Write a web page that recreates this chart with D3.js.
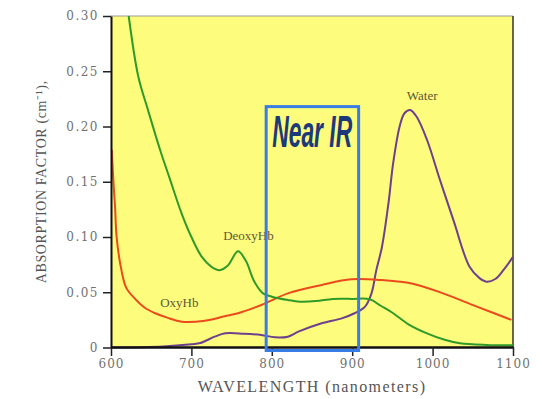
<!DOCTYPE html>
<html>
<head>
<meta charset="utf-8">
<script src="https://cdn.jsdelivr.net/npm/d3@7"></script>
<style>
  body { margin: 0; background: #fff; }
  .tick text { font-family: "DejaVu Serif", serif; fill: #707070; }
</style>
</head>
<body>
<div id="chart"></div>
<script>
// svg size
var svgWidth = 542;
var svgHeight = 399;
var margins = { top: 16, right: 29, bottom: 52, left: 111 };
var chartWidth = svgWidth - margins.left - margins.right;
var chartHeight = svgHeight - margins.top - margins.bottom;

// data (wavelength in nm, absorption in cm-1)
var deoxyWave = [622, 634, 646, 661, 673, 688, 700, 713, 725, 735, 745, 758, 768, 778, 789, 800, 820, 835, 855, 876, 900, 922, 935, 951, 970, 993, 1015, 1034, 1067, 1100];
var deoxyVal  = [0.30, 0.245, 0.215, 0.179, 0.153, 0.121, 0.100, 0.082, 0.073, 0.070, 0.074, 0.087, 0.078, 0.060, 0.049, 0.046, 0.043, 0.0415, 0.042, 0.044, 0.044, 0.0436, 0.038, 0.031, 0.021, 0.0128, 0.007, 0.0038, 0.0023, 0.002];

var oxyWave = [601, 603, 605, 607, 613, 619, 630, 642, 655, 670, 688, 717, 740, 758, 787, 820, 862, 899, 937, 974, 1013, 1055, 1098];
var oxyVal  = [0.179, 0.150, 0.128, 0.100, 0.070, 0.054, 0.044, 0.036, 0.031, 0.027, 0.0234, 0.0243, 0.028, 0.031, 0.0385, 0.049, 0.0566, 0.0617, 0.061, 0.058, 0.049, 0.037, 0.025];

var waterWave = [600, 665, 700, 711, 729, 742, 765, 787, 804, 820, 833, 862, 887, 903, 916, 924, 930, 937, 945, 951, 959, 965, 972, 980, 993, 1009, 1026, 1046, 1058, 1067, 1078, 1088, 1100];
var waterVal  = [0.0, 0.001, 0.003, 0.004, 0.0098, 0.0128, 0.0125, 0.0113, 0.0092, 0.0098, 0.0143, 0.0219, 0.0264, 0.031, 0.037, 0.049, 0.070, 0.091, 0.130, 0.167, 0.200, 0.212, 0.215, 0.209, 0.188, 0.152, 0.115, 0.073, 0.063, 0.0596, 0.062, 0.070, 0.082];

var xTicks = [600, 700, 800, 900, 1000, 1100];
var yTicks = [0, 0.05, 0.10, 0.15, 0.20, 0.25, 0.30];

// near infrared window and label positions
var nearIR = { from: 793, to: 908, top: 0.218 };
var labels = [
  { text: "Water", x: 987, y: 0.228 },
  { text: "DeoxyHb", x: 771, y: 0.101 },
  { text: "OxyHb", x: 685, y: 0.041 }
];

var svg = d3.select("#chart").append("svg")
    .attr("width", svgWidth)
    .attr("height", svgHeight);

var chartGroup = svg.append("g")
    .attr("transform", `translate(${margins.left}, ${margins.top})`);

var xscale = d3.scaleLinear().domain([600, 1100]).range([0, chartWidth]);
var yscale = d3.scaleLinear().domain([0, 0.30]).range([chartHeight + 0.5, 0]);

// yellow plot background
chartGroup.append("rect")
    .attr("width", chartWidth)
    .attr("height", chartHeight)
    .attr("fill", "#fdfc7c");

// frame top + right
chartGroup.append("line")
    .attr("x1", 0).attr("x2", chartWidth).attr("y1", 0).attr("y2", 0)
    .attr("stroke", "#9a9a9a").attr("stroke-width", 1);
chartGroup.append("line")
    .attr("x1", chartWidth).attr("x2", chartWidth).attr("y1", 0).attr("y2", chartHeight)
    .attr("stroke", "#333").attr("stroke-width", 1.5);

var line = d3.line()
    .x(d => xscale(d[0]))
    .y(d => yscale(d[1]))
    .curve(d3.curveCatmullRom.alpha(0.5));

function draw(wave, vals, color) {
  chartGroup.append("path")
    .datum(wave.map((w, i) => [w, vals[i]]))
    .attr("fill", "none")
    .attr("stroke", color)
    .attr("stroke-width", 2)
    .attr("d", line);
}
draw(waterWave, waterVal, "#6d3f8e");
draw(oxyWave, oxyVal, "#ec4a1c");
draw(deoxyWave, deoxyVal, "#2f9a2a");

// curve labels
chartGroup.selectAll(".lbl")
    .data(labels)
    .enter()
    .append("text")
    .attr("class", "lbl")
    .attr("x", d => xscale(d.x))
    .attr("y", d => yscale(d.y))
    .attr("text-anchor", "middle")
    .attr("dy", "0.35em")
    .style("font", "13px 'Liberation Serif', serif")
    .attr("fill", "#5e5838")
    .text(d => d.text);

// axes
var xAxis = d3.axisBottom(xscale).tickValues(xTicks).tickSize(9).tickSizeOuter(0).tickPadding(3)
    .tickFormat(d3.format("d"));
var yAxis = d3.axisLeft(yscale).tickValues(yTicks).tickSize(8).tickSizeOuter(0).tickPadding(4)
    .tickFormat(d => d === 0 ? "0" : d.toFixed(2));

var gx = chartGroup.append("g")
    .attr("transform", `translate(0, ${chartHeight})`)
    .call(xAxis);
gx.select(".domain").attr("stroke", "#111").attr("stroke-width", 2.5);
gx.selectAll(".tick line").attr("stroke", "#222").attr("stroke-width", 1.5);
gx.selectAll(".tick text").style("font-size", "12px").style("letter-spacing", "1px");

var gy = chartGroup.append("g").call(yAxis);
gy.select(".domain").attr("stroke", "#111").attr("stroke-width", 2);
gy.selectAll(".tick line").attr("stroke", "#222").attr("stroke-width", 1.5);
gy.selectAll(".tick text").style("font-size", "12px").style("letter-spacing", "1.5px");

// near IR box, drawn over the axis like the original
chartGroup.append("rect")
    .attr("x", xscale(nearIR.from))
    .attr("y", yscale(nearIR.top))
    .attr("width", xscale(nearIR.to) - xscale(nearIR.from))
    .attr("height", yscale(0) - yscale(nearIR.top) + 3)
    .attr("fill", "none")
    .attr("stroke", "#3a7ce6")
    .attr("stroke-width", 3);

chartGroup.append("text")
    .attr("x", xscale(nearIR.from) + 6)
    .attr("y", yscale(nearIR.top) + 40)
    .attr("textLength", 80)
    .attr("lengthAdjust", "spacingAndGlyphs")
    .style("font", "italic bold 44px 'Liberation Sans', sans-serif")
    .attr("fill", "#1c3a7a")
    .text("Near IR");

// axis titles
chartGroup.append("text")
    .attr("transform", `translate(${chartWidth / 2}, ${chartHeight + 45})`)
    .attr("text-anchor", "middle")
    .style("font", "16px 'Liberation Serif', serif")
    .style("letter-spacing", "1.4px")
    .attr("fill", "#555")
    .text("WAVELENGTH (nanometers)");

chartGroup.append("text")
    .attr("transform", `translate(${-70}, ${yscale(0.15)}) rotate(-90)`)
    .attr("text-anchor", "middle")
    .attr("dy", "0.35em")
    .style("font", "14px 'Liberation Serif', serif")
    .style("letter-spacing", "0.6px")
    .attr("fill", "#555")
    .text("ABSORPTION FACTOR (cm\u207B\u00B9),");
</script>
</body>
</html>
